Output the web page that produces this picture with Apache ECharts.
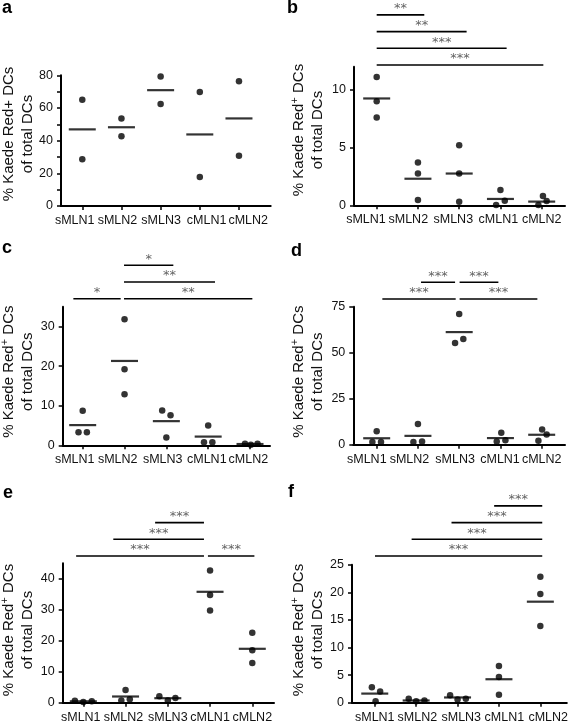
<!DOCTYPE html>
<html><head><meta charset="utf-8">
<script src="https://cdn.jsdelivr.net/npm/echarts@6/dist/echarts.min.js"></script>
<style>html,body{margin:0;padding:0;background:#fff}#c{width:571px;height:725px}</style>
</head><body><div id="c"></div>
<script>
const categories = ['sMLN1', 'sMLN2', 'sMLN3', 'cMLN1', 'cMLN2'];

// Panel a
const aValues = [[65.1, 28.6], [53.5, 42.7], [79.2, 62.4], [69.8, 17.8], [76.3, 30.8]];
const aJitter = [[0, 0], [0, 0], [0, 0], [0, 0], [0, 0]];
const aMeans = [46.9, 48.2, 70.9, 43.8, 53.6];
const aTicks = [0, 10, 20, 30, 40, 50, 60, 70, 80];
const aTickLabels = [0, 20, 40, 60, 80];
const aBrackets = [];

// Panel b
const bValues = [[11.1, 9.0, 7.6], [3.7, 2.75, 0.45], [5.2, 2.75, 0.3], [1.33, 0.4, 0.03], [0.8, 0.37, 0.03]];
const bJitter = [[0, 0, 0], [0, 0, 0], [0, 0, 0], [0, 0.105, -0.105], [0.03, 0.12, -0.08]];
const bMeans = [9.25, 2.3, 2.75, 0.55, 0.32];
const bTicks = [0, 5, 10];
const bTickLabels = [0, 5, 10];
const bBrackets = [[0, 1.154, 4, '**'], [0, 2.18, 3, '**'], [0, 3.15, 2, '***'], [0, 4.04, 1, '***']];

// Panel c
const cValues = [[8.74, 3.3, 3.3], [31.8, 19.2, 12.9], [8.8, 7.6, 2.0], [5.0, 0.8, 0.8], [0.4, 0.15, 0.4]];
const cJitter = [[0, -0.1, 0.1], [0, 0, 0], [-0.1, 0.1, 0], [0, -0.1, 0.1], [-0.12, 0.02, 0.18]];
const cMeans = [5.1, 21.3, 6.1, 2.2, 0.32];
const cTicks = [0, 10, 20, 30];
const cTickLabels = [0, 10, 20, 30];
const cBrackets = [[-0.223, 0.908, 1, '*'], [0.988, 2.167, 3, '*'], [0.988, 3.163, 2, '**'], [0.988, 4.056, 1, '**']];

// Panel d
const dValues = [[7.3, 1.5, 1.5], [11.2, 1.4, 1.8], [71.0, 55.3, 57.4], [6.5, 1.8, 2.4], [8.2, 2.2, 5.6]];
const dJitter = [[0, -0.105, 0.105], [0, -0.11, 0.1], [0, -0.1, 0.1], [0.02, -0.09, 0.12], [0.01, -0.08, 0.12]];
const dMeans = [3.5, 4.8, 61.2, 3.6, 5.4];
const dTicks = [0, 25, 50, 75];
const dTickLabels = [0, 25, 50, 75];
const dBrackets = [[1.075, 1.9, 2, '***'], [2.01, 2.95, 2, '***'], [0.137, 1.915, 1, '***'], [2.01, 3.895, 1, '***']];

// Panel e
const eValues = [[0.6, 0.2, 0.5], [4.1, 0.7, 1.1], [2.1, 0.75, 1.5], [42.7, 34.8, 29.8], [22.6, 16.9, 12.8]];
const eJitter = [[-0.2, 0, 0.2], [0, -0.1, 0.1], [-0.2, 0, 0.18], [0, 0, 0], [0, 0, 0]];
const eMeans = [0.45, 2.0, 1.45, 35.8, 17.4];
const eTicks = [0, 10, 20, 30, 40];
const eTickLabels = [0, 10, 20, 30, 40];
const eBrackets = [[1.70, 2.856, 3, '***'], [0.71, 2.856, 2, '***'], [-0.17, 2.856, 1, '***'], [2.95, 4.05, 1, '***']];

// Panel f
const fValues = [[2.8, 2.05, 0.25], [0.72, 0.25, 0.42], [1.33, 0.6, 0.72], [6.64, 4.65, 1.45], [22.8, 19.7, 13.9]];
const fJitter = [[-0.07, 0.13, 0.02], [-0.18, 0, 0.2], [-0.18, 0, 0.2], [0, 0, 0], [0, 0, 0]];
const fMeans = [1.65, 0.4, 0.95, 4.25, 18.3];
const fTicks = [0, 5, 10, 15, 20, 25];
const fTickLabels = [0, 5, 10, 15, 20, 25];
const fBrackets = [[2.85, 4.0, 4, '***'], [1.83, 4.0, 3, '***'], [0.876, 4.0, 2, '***'], [0, 4.0, 1, '***']];

const FONT = '"Liberation Sans", Arial, Helvetica, sans-serif';

const panels = [
  {id: 'a', values: aValues, jitter: aJitter, means: aMeans, ticks: aTicks, tickLabels: aTickLabels, yMax: 80, brackets: aBrackets, sup: false,
   L: {left: 61, top: 75.3, width: 209.7, height: 130.7, xMin: -0.543, xMax: 4.81, labelAt: [-0.194, 0.898, 2.013, 3.173, 4.235], title: [18.5, 134], letter: [2, 8.5], bTop: null}},
  {id: 'b', values: bValues, jitter: bJitter, means: bMeans, ticks: bTicks, tickLabels: bTickLabels, yMax: 12, brackets: bBrackets, sup: true,
   L: {left: 354, top: 66.7, width: 211, height: 138.6, xMin: -0.55, xMax: 4.565, labelAt: [-0.26, 0.766, 1.857, 2.95, 4.0], title: [308.3, 130], letter: [287, 8.5], bTop: 14.9}},
  {id: 'c', values: cValues, jitter: cJitter, means: cMeans, ticks: cTicks, tickLabels: cTickLabels, yMax: 35, brackets: cBrackets, sup: true,
   L: {left: 62.7, top: 306.7, width: 207.3, height: 138.6, xMin: -0.478, xMax: 4.478, labelAt: [-0.19, 0.837, 1.914, 2.967, 3.96], title: [18.5, 371.7], letter: [2, 248.5], bTop: 248.6}},
  {id: 'd', values: dValues, jitter: dJitter, means: dMeans, ticks: dTicks, tickLabels: dTickLabels, yMax: 75, brackets: dBrackets, sup: true,
   L: {left: 353.3, top: 306.7, width: 211.7, height: 138, xMin: -0.567, xMax: 4.565, labelAt: [-0.24, 0.795, 1.9, 2.99, 4.0], title: [308.3, 371.7], letter: [291, 251.5], bTop: 248.9}},
  {id: 'e', values: eValues, jitter: eJitter, means: eMeans, ticks: eTicks, tickLabels: eTickLabels, yMax: 45, brackets: eBrackets, sup: true,
   L: {left: 62.7, top: 563.3, width: 211.3, height: 139.4, xMin: -0.488, xMax: 4.514, labelAt: [-0.06, 0.95, 2.0, 3.0, 4.0], title: [18.5, 630], letter: [3, 493.5], bTop: 505.9}},
  {id: 'f', values: fValues, jitter: fJitter, means: fMeans, ticks: fTicks, tickLabels: fTickLabels, yMax: 25, brackets: fBrackets, sup: true,
   L: {left: 352, top: 564.7, width: 217, height: 138, xMin: -0.55, xMax: 4.64, labelAt: [0, 1.03, 2.09, 3.13, 4.19], title: [308.3, 630], letter: [288, 492.5], bTop: 505.9}}
];

const option = {animation: false, grid: [], xAxis: [], yAxis: [], series: [], graphic: []};
const axisLineStyle = {color: '#000', width: 2};

panels.forEach(p => {
  const L = p.L;
  const gi = option.grid.length;
  option.grid.push({left: L.left, top: L.top, width: L.width, height: L.height, containLabel: false});
  option.xAxis.push({
    type: 'value', gridIndex: gi, min: L.xMin, max: L.xMax,
    splitLine: {show: false},
    axisLine: {show: true, onZero: false, lineStyle: axisLineStyle},
    axisTick: {show: true, customValues: [0, 1, 2, 3, 4], length: 4, lineStyle: {color: '#000', width: 1.5}},
    axisLabel: {show: true, customValues: L.labelAt, margin: 8, color: '#111', fontSize: 12.5, fontFamily: FONT,
      formatter: v => { const i = L.labelAt.findIndex(u => Math.abs(u - v) < 1e-6); return i >= 0 ? categories[i] : ''; }}
  });
  option.yAxis.push({
    type: 'value', gridIndex: gi, min: 0, max: p.yMax,
    splitLine: {show: false},
    axisLine: {show: true, onZero: false, lineStyle: axisLineStyle},
    axisTick: {show: true, customValues: p.ticks, length: 4, lineStyle: {color: '#000', width: 1.5}},
    axisLabel: {show: true, customValues: p.tickLabels, margin: 8, color: '#111', fontSize: 12.5, fontFamily: FONT}
  });
  const pts = [];
  p.values.forEach((arr, i) => arr.forEach((v, j) => pts.push([i + p.jitter[i][j], v])));
  option.series.push({type: 'scatter', xAxisIndex: gi, yAxisIndex: gi, data: pts, symbol: 'circle', symbolSize: 6.5,
    itemStyle: {color: '#000'}, silent: true, clip: false, z: 3});
  option.series.push({type: 'scatter', xAxisIndex: gi, yAxisIndex: gi, data: p.means.map((m, i) => [i, m]),
    symbol: 'rect', symbolSize: [27, 2.2], itemStyle: {color: '#000'}, silent: true, clip: false, z: 4});

  if (L.bTop !== null) {
    const bi = option.grid.length;
    option.grid.push({left: L.left, top: L.bTop, width: L.width, height: 66.8, containLabel: false});
    option.xAxis.push({type: 'value', gridIndex: bi, min: L.xMin, max: L.xMax, show: false});
    option.yAxis.push({type: 'value', gridIndex: bi, min: 0, max: 4, show: false});
    p.brackets.forEach(b => {
      option.series.push({type: 'line', xAxisIndex: bi, yAxisIndex: bi, data: [[b[0], b[2]], [b[1], b[2]]],
        symbol: 'none', lineStyle: {color: '#000', width: 1.6}, silent: true, clip: false});
    });
    option.series.push({type: 'scatter', xAxisIndex: bi, yAxisIndex: bi,
      data: p.brackets.map(b => ({value: [(b[0] + b[1]) / 2, b[2]], name: b[3]})),
      symbolSize: 1, itemStyle: {color: 'rgba(0,0,0,0)'}, silent: true, clip: false,
      label: {show: true, position: 'top', distance: -1, formatter: prm => prm.name,
        fontFamily: '"DejaVu Sans", sans-serif', fontSize: 13, color: '#3a3a3a'}});
  }

  const text = p.sup ? '{m|% Kaede Red}{s|+}{m| DCs}\n{m|of total DCs}' : '{m|% Kaede Red+ DCs}\n{m|of total DCs}';
  option.graphic.push({
    type: 'text', x: L.title[0], y: L.title[1], rotation: Math.PI / 2, silent: true,
    style: {text: text, align: 'center', verticalAlign: 'middle', textAlign: 'center', textVerticalAlign: 'middle',
      fill: '#111', rich: {
        m: {fontSize: 15, fontFamily: FONT, lineHeight: 19, fill: '#111', color: '#111'},
        s: {fontSize: 11, fontFamily: FONT, verticalAlign: 'top', fill: '#111', color: '#111'}
      }}
  });
  option.graphic.push({
    type: 'text', x: L.letter[0], y: L.letter[1], silent: true,
    style: {text: p.id, font: 'bold 18px ' + FONT, fill: '#000', align: 'left', verticalAlign: 'middle',
      textAlign: 'left', textVerticalAlign: 'middle'}
  });
});

const chart = echarts.init(document.getElementById('c'), null, {renderer: 'canvas'});
chart.setOption(option);
</script>
</body></html>
